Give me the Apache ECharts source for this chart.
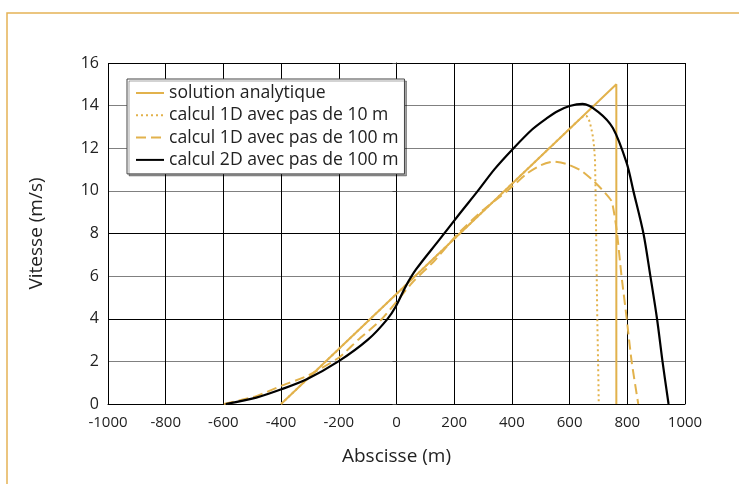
<!DOCTYPE html>
<html>
<head>
<meta charset="utf-8">
<script src="https://cdn.jsdelivr.net/npm/echarts@6/dist/echarts.min.js"></script>
<style>
  html, body { margin: 0; padding: 0; background: #fff; }
  #main { width: 739px; height: 484px; }
</style>
</head>
<body>
<div id="main"></div>
<script>
// valeurs : [abscisse (m), vitesse (m/s)]
const seriesNames = [
  'solution analytique',
  'calcul 1D avec pas de 10 m',
  'calcul 1D avec pas de 100 m',
  'calcul 2D avec pas de 100 m'
]
const analytique = [[-400, 0], [762, 15], [762, 0]]
const pas10 = [[-400, 0], [640, 13.43], [652, 13.52], [660, 13.5], [668, 13.3], [674, 13.0],
  [680, 12.6], [684, 12.2], [688, 11.5], [690, 10], [692, 8], [694, 6], [696, 4],
  [698, 2.5], [700, 1], [701, 0]]
const pas100 = [[-598, 0], [-486, 0.37], [-400, 0.85], [-311, 1.31], [-200, 2.17], [-134, 3.0],
  [-50, 4.0], [55, 5.7], [130, 6.7], [214, 8.0], [300, 9.1], [384, 10.0], [454, 10.83],
  [500, 11.2], [543, 11.37], [590, 11.26], [640, 10.95], [680, 10.5], [720, 9.95], [746, 9.5],
  [763, 8.17], [780, 6], [798, 4], [815, 2], [838, 0]]
const calcul2D = [[-592, 0], [-486, 0.3], [-399, 0.69], [-311, 1.16], [-200, 2.01], [-98, 3.03],
  [-33, 3.96], [-2, 4.59], [32, 5.52], [67, 6.3], [148, 7.7], [220, 8.95], [282, 10],
  [340, 11.02], [400, 11.92], [470, 12.88], [520, 13.4], [560, 13.75], [600, 13.98],
  [645, 14.08], [700, 13.7], [750, 12.95], [798, 11.3], [821, 10], [856, 8], [880, 6],
  [903, 4], [922, 2], [943, 0]]

const orange = '#E2B24C'
const font = 'Open Sans'
// couleur de chaque ligne horizontale, de 0 à 16
const hLineColors = ['#000', '#808080', '#000', '#808080', '#000', '#808080', '#808080', '#808080', '#000']

const chart = echarts.init(document.getElementById('main'))
chart.setOption({
  animation: false,
  backgroundColor: '#fff',
  textStyle: { fontFamily: font },
  graphic: [{
    type: 'rect',
    shape: { x: 7, y: 13, width: 800, height: 600 },
    style: { fill: 'none', stroke: '#E5B356', lineWidth: 1.5 },
    silent: true
  }],
  grid: { left: 108, right: 54, top: 63, bottom: 80 },
  legend: {
    left: 127,
    top: 79,
    orient: 'vertical',
    backgroundColor: '#fff',
    borderColor: '#444',
    borderWidth: 1,
    shadowColor: 'rgba(0,0,0,0.35)',
    shadowOffsetX: 2,
    shadowOffsetY: 2,
    padding: [4, 6, 4, 8],
    itemWidth: 28,
    itemHeight: 14,
    itemGap: 2.3,
    itemStyle: { opacity: 0 },
    textStyle: { fontFamily: font, fontSize: 17.6, color: '#222', lineHeight: 20 },
    data: seriesNames
  },
  xAxis: {
    type: 'value',
    min: -1000,
    max: 1000,
    interval: 200,
    name: 'Abscisse (m)',
    nameLocation: 'middle',
    nameGap: 43,
    nameTextStyle: { fontFamily: font, fontSize: 19, color: '#222' },
    axisLine: { onZero: false, lineStyle: { color: '#000', width: 1 } },
    axisTick: { show: false },
    axisLabel: { fontFamily: font, fontSize: 15, color: '#222', margin: 11, formatter: v => String(v) },
    splitLine: { show: true, lineStyle: { color: '#000', width: 1 } }
  },
  yAxis: {
    type: 'value',
    min: 0,
    max: 16,
    interval: 2,
    name: 'Vitesse (m/s)',
    nameLocation: 'middle',
    nameGap: 62,
    nameTextStyle: { fontFamily: font, fontSize: 19, color: '#222' },
    axisLine: { show: true, lineStyle: { color: '#000', width: 1 } },
    axisTick: { show: true, length: 4, lineStyle: { color: '#444' } },
    axisLabel: { fontFamily: font, fontSize: 16, color: '#222', margin: 9 },
    splitLine: { show: true, lineStyle: { color: hLineColors, width: 1 } }
  },
  series: [
    {
      name: seriesNames[0], type: 'line', data: analytique, symbol: 'none',
      color: orange, lineStyle: { color: orange, width: 2 }
    },
    {
      name: seriesNames[1], type: 'line', data: pas10, symbol: 'none',
      color: orange, lineStyle: { color: orange, width: 2, type: [2, 3] }
    },
    {
      name: seriesNames[2], type: 'line', data: pas100, symbol: 'none', smooth: 0.2,
      color: orange, lineStyle: { color: orange, width: 2, type: [10, 5] }
    },
    {
      name: seriesNames[3], type: 'line', data: calcul2D, symbol: 'none', smooth: 0.3,
      color: '#000', lineStyle: { color: '#000', width: 2.2 }
    }
  ]
})
</script>
</body>
</html>
